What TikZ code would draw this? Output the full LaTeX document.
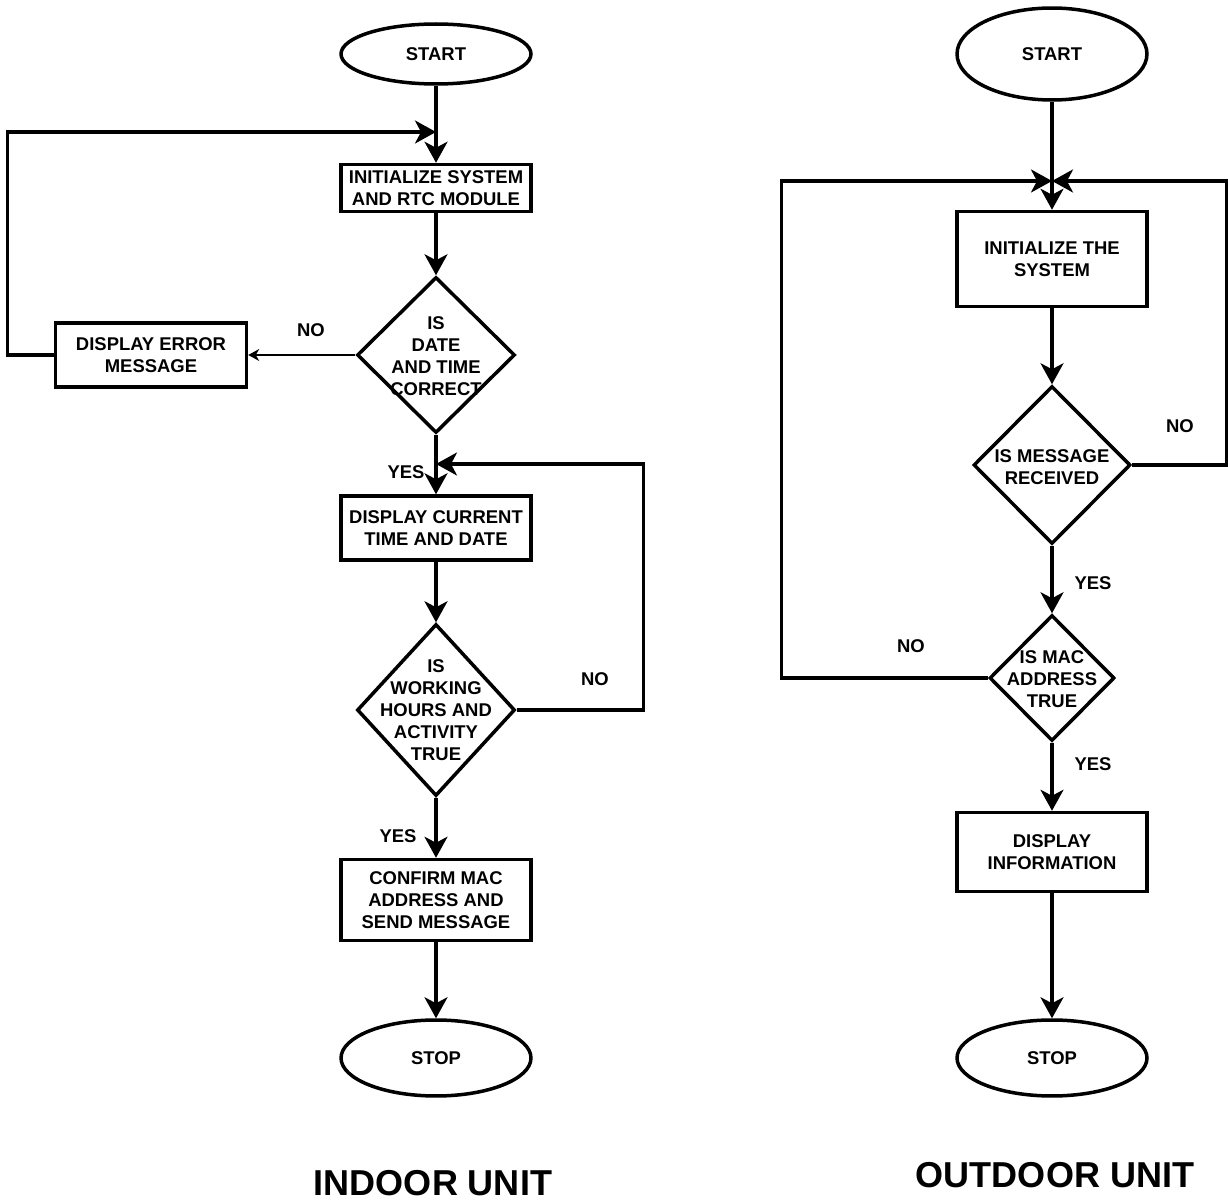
\documentclass[tikz,border=0pt]{standalone}
\usepackage{fontspec}
\setmainfont{Liberation Sans}
\usetikzlibrary{arrows.meta}
\usetikzlibrary{shapes.geometric}

\begin{document}
\begin{tikzpicture}[x=0.02cm,y=-0.02cm,
  font=\bfseries\fontsize{10.5}{12.6}\selectfont,
  box/.style={draw,line width=0.07cm,minimum width=3.8cm,align=center,inner sep=0},
  term/.style={draw,ellipse,line width=0.07cm,minimum width=3.8cm,inner sep=0},
  decision/.style={draw,diamond,line width=0.07cm,inner sep=0},
  arr/.style={line width=0.065cm,-{Stealth[length=0.42cm,width=0.46cm,inset=0.12cm]}},
  thinarr/.style={line width=0.03cm,-{Stealth[length=0.22cm,width=0.24cm,inset=0.07cm]}},
  lbl/.style={inner sep=0,align=center}]
\useasboundingbox (0,0) rectangle (1228,1202);

\node[term,minimum height=1.2cm] (start1) at (436,54) {START};
\node[box,minimum height=0.94cm] (init1) at (436,188) {INITIALIZE SYSTEM\\AND RTC MODULE};
\node[decision,minimum width=3.16cm,minimum height=3.12cm] (d1) at (436,355) {};
\node[lbl] (d1txt) at (436,356) {IS\\DATE\\AND TIME\\CORRECT};
\node[box,minimum width=3.82cm,minimum height=1.28cm] (err) at (151,355) {DISPLAY ERROR\\MESSAGE};
\node[box,minimum height=1.28cm] (disp1) at (436,528) {DISPLAY CURRENT\\TIME AND DATE};
\node[decision,minimum width=3.16cm,minimum height=3.44cm] (d2) at (436,710) {};
\node[lbl] (d2txt) at (436,710) {IS\\WORKING\\HOURS AND\\ACTIVITY\\TRUE};
\node[box,minimum height=1.62cm] (confirm) at (436,900) {CONFIRM MAC\\ADDRESS AND\\SEND MESSAGE};
\node[term,minimum height=1.52cm] (stop1) at (436,1058) {STOP};
\coordinate (j1) at (436,132);
\coordinate (j3) at (436,464);

\draw[arr] (start1) -- (init1);
\draw[arr] (init1) -- (d1);
\draw[thinarr] (d1.west) -- (err.east);
\draw[arr] (err.west) -- ++(-46,0) |- (j1);
\draw[arr] (d1) -- (disp1);
\draw[arr] (disp1) -- (d2);
\draw[arr] (d2.east) -- ++(127,0) |- (j3);
\draw[arr] (d2) -- (confirm);
\draw[arr] (confirm) -- (stop1);

\node[lbl] (no1) at (311,330) {NO};
\node[lbl] (yes1) at (406,472) {YES};
\node[lbl] (no2) at (595,679) {NO};
\node[lbl] (yes2) at (398,836) {YES};

\node[term,minimum height=1.84cm] (start2) at (1052,54) {START};
\node[box,minimum height=1.9cm] (init2) at (1052,259) {INITIALIZE THE\\SYSTEM};
\node[decision,minimum width=3.14cm,minimum height=3.16cm] (d3) at (1052,465) {};
\node[lbl] (d3txt) at (1052,467) {IS MESSAGE\\RECEIVED};
\node[decision,minimum width=2.5cm,minimum height=2.52cm] (d4) at (1052,678) {};
\node[lbl] (d4txt) at (1052,679) {IS MAC\\ADDRESS\\TRUE};
\node[box,minimum height=1.58cm] (info) at (1052,852) {DISPLAY\\INFORMATION};
\node[term,minimum height=1.52cm] (stop2) at (1052,1058) {STOP};
\coordinate (j2) at (1052,181);

\draw[arr] (start2) -- (init2);
\draw[arr] (init2) -- (d3);
\draw[arr] (d3.east) -- ++(94,0) |- (j2);
\draw[arr] (d3) -- (d4);
\draw[arr] (d4.west) -- ++(-206,0) |- (j2);
\draw[arr] (d4) -- (info);
\draw[arr] (info) -- (stop2);

\node[lbl] (no3) at (1180,426) {NO};
\node[lbl] (yes3) at (1093,583) {YES};
\node[lbl] (no4) at (911,646) {NO};
\node[lbl] (yes4) at (1093,764) {YES};

\node[lbl,font=\bfseries\fontsize{20.5}{24}\selectfont] (indoor) at (433,1183) {INDOOR UNIT};
\node[lbl,font=\bfseries\fontsize{20.5}{24}\selectfont] (outdoor) at (1055,1175) {OUTDOOR UNIT};
\end{tikzpicture}
\end{document}
